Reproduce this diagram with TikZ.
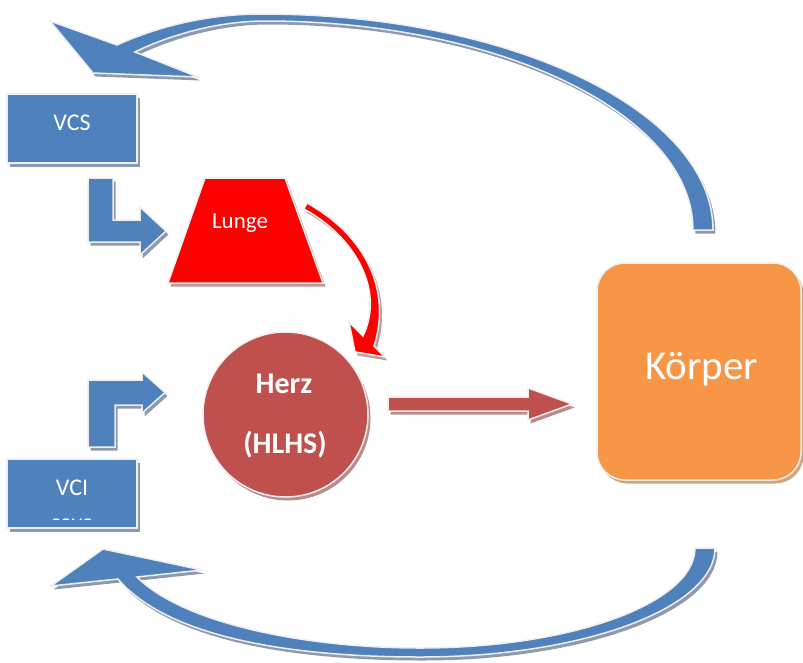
\documentclass[tikz,border=0pt]{standalone}
\usepackage{fontspec}
\setmainfont{Carlito}
\usetikzlibrary{shadows}
\definecolor{oblue}{HTML}{4F81BD}
\definecolor{ored}{HTML}{C0504D}
\definecolor{oorange}{HTML}{F79646}
\definecolor{lred}{HTML}{FF0000}
\definecolor{shblue}{HTML}{8D9AAE}
\definecolor{shred}{HTML}{B98C8B}
\definecolor{shlred}{HTML}{BF9A9A}
\definecolor{shorange}{HTML}{D3A682}
\definecolor{rim}{HTML}{EEEEEE}
\tikzset{
  shp/.style={draw=rim, line width=1.5pt, line join=miter},
  shad/.style={drop shadow={shadow xshift=2.5pt, shadow yshift=-3.5pt, shadow scale=1, opacity=1, fill=#1}},
  lbl/.style={text=white, inner sep=0pt, anchor=base},
  bluebox/.style={rectangle, fill=oblue, shp, shad=shblue, minimum width=130pt, minimum height=69pt, inner sep=0pt},
}
\begin{document}
\begin{tikzpicture}[x=1pt, y=-1pt]
\useasboundingbox (0,0) rectangle (803,662);

% top curved arrow (Koerper -> VCS)
\path[fill=oblue, shp, shad=shblue]
  (50,21) -- (117,45)
  .. controls (150,30) and (200,14) .. (262,14)
  .. controls (511,14) and (713,111) .. (713,230)
  -- (693,230)
  .. controls (693,115) and (501,21) .. (265,21)
  .. controls (215,21) and (165,37) .. (135,52)
  -- (198,77) -- (93,73) -- cycle;

% bottom curved arrow (Koerper -> VCI)
\path[fill=oblue, shp, shad=shblue]
  (51,586) -- (103,549) -- (202,570) -- (137,577)
  .. controls (185,625) and (310,648) .. (420,648)
  .. controls (572,648) and (695,603) .. (695,548)
  -- (715,548)
  .. controls (715,608) and (583,657) .. (420,657)
  .. controls (300,657) and (170,640) .. (118,579)
  -- cycle;

% boxes
\node[bluebox] (vcs) at (72,128.5) {};
\node[bluebox] (vci) at (72,493.5) {};
\node[lbl, font=\fontsize{24}{28}\selectfont] (vcstext) at (72,130) {VCS};
\node[lbl, font=\fontsize{24}{28}\selectfont] (vcitext) at (72,495) {VCI};
\begin{scope}
  \clip (7,459) rectangle (137,519);
  \node[lbl, font=\fontsize{24}{28}\selectfont] (cava) at (72,530) {cava};
\end{scope}

% bent arrows
\path[fill=oblue, shp, shad=shblue]
  (88,178) -- (113,178) -- (113,220) -- (140,220) -- (140,207) -- (166,231)
  -- (140,255) -- (140,242) -- (88,242) -- cycle;
\path[fill=oblue, shp, shad=shblue]
  (88,447) -- (88,380) -- (142,380) -- (142,372) -- (165,392.5)
  -- (142,413) -- (142,405) -- (115,405) -- (115,447) -- cycle;

% Lunge
\path[fill=lred, shp, shad=shlred] (205,178) -- (285,178) -- (323,283) -- (168,283) -- cycle;
\node[lbl, font=\fontsize{23}{27}\selectfont] (lunge) at (240,228) {Lunge};

% Herz
\node[circle, fill=ored, shp, shad=shred, minimum size=165pt, inner sep=0pt] (herz) at (285.5,414.5) {};
\node[lbl, font=\fontsize{30}{36}\selectfont\bfseries] (herztext) at (284,393) {Herz};
\node[lbl, font=\fontsize{30}{36}\selectfont\bfseries] (hlhs) at (285,453) {(HLHS)};

% Lunge -> Herz curved arrow
\path[fill=lred, shp, shad=shlred]
  (307,203) .. controls (365,235) and (392,290) .. (374,346)
  -- (385,357) -- (355,352) -- (349,322) -- (363,336)
  .. controls (385,290) and (355,237) .. (304,209) -- cycle;

% Herz -> Koerper arrow
\path[fill=ored, shp, shad=shred]
  (388,397) -- (528,397) -- (528,388) -- (572,404) -- (528,420)
  -- (528,411) -- (388,411) -- cycle;

% Koerper
\node[rectangle, rounded corners=28pt, fill=oorange, shp, shad=shorange,
      minimum width=204pt, minimum height=217pt, inner sep=0pt] (koerper) at (699,371.5) {};
\node[lbl, font=\fontsize{41}{48}\selectfont] (koerpertext) at (701.5,379) {Körper};
\end{tikzpicture}
\end{document}
